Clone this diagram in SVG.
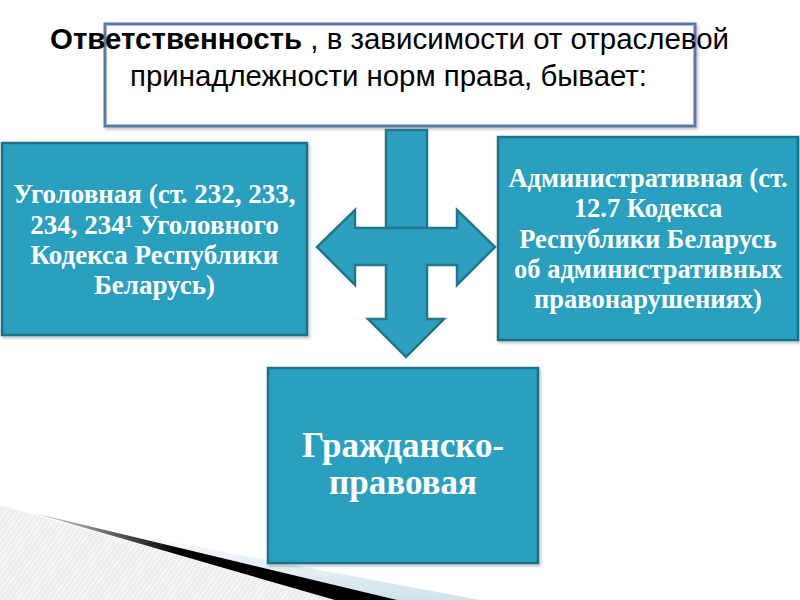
<svg xmlns="http://www.w3.org/2000/svg" width="800" height="600" viewBox="0 0 800 600">
<defs>
<style>
.box{fill:#2ca0c0;stroke:#1f7188;stroke-width:2.5}
.arr{fill:#2ca0c0;stroke:#22768d;stroke-width:2.5;stroke-linejoin:miter}
.t{font-family:"Liberation Serif","Times New Roman",serif;font-weight:bold;fill:#ffffff;text-anchor:middle}
.h{font-family:"Liberation Sans",Arial,sans-serif;fill:#000000}
</style>
<pattern id="hatch" width="4" height="4" patternUnits="userSpaceOnUse" patternTransform="rotate(35)">
<rect width="4" height="4" fill="#f4f4f4"/>
<line x1="0" y1="0" x2="0" y2="4" stroke="#d8d8d8" stroke-width="1"/>
</pattern>
<linearGradient id="lb" x1="0" y1="1" x2="0" y2="0">
<stop offset="0" stop-color="#cfe3ec"/>
<stop offset="1" stop-color="#ffffff"/>
</linearGradient>
<linearGradient id="bk" x1="0" y1="0" x2="1" y2="0">
<stop offset="0" stop-color="#000" stop-opacity="0.1"/>
<stop offset="0.4" stop-color="#000" stop-opacity="1"/>
</linearGradient>
<filter id="sh" x="-5%" y="-5%" width="112%" height="115%">
<feDropShadow dx="1.5" dy="2" stdDeviation="1.5" flood-color="#000" flood-opacity="0.25"/>
</filter>
</defs>
<rect width="800" height="600" fill="#ffffff"/>
<g id="decor">
<polygon points="0,505 300,590 340,600 0,600" fill="url(#hatch)"/>
<polygon points="80,525 480,600 340,600" fill="url(#lb)"/>
<polygon points="30,512 397,600 335,600" fill="url(#bk)"/>
</g>
<g id="title">
<rect x="105" y="24" width="590" height="102" fill="#ffffff" stroke="#5b78a8" stroke-width="3" filter="url(#sh)"/>
<rect x="106.5" y="25.5" width="587" height="99" fill="none" stroke="#a9bad6" stroke-width="1"/>
<text class="h" x="50" y="49" font-size="29" textLength="679" lengthAdjust="spacingAndGlyphs"><tspan font-weight="bold">Ответственность</tspan> , в зависимости от отраслевой</text>
<text class="h" x="130" y="86" font-size="29" textLength="517" lengthAdjust="spacingAndGlyphs">принадлежности норм права, бывает:</text>
</g>
<g id="connectors">
<rect class="arr" x="386" y="130" width="41" height="98"/>
<polygon class="arr" points="386,228 427,228 457,228 457,210 495,247 457,285 457,265 427,265 427,319 444,319 406,357 368,319 386,319 386,265 355,265 355,285 317,247 355,210 355,228"/>
</g>
<g id="criminal">
<rect class="box" x="2" y="143" width="305" height="192" filter="url(#sh)"/>
<text class="t" font-size="27"><tspan x="154.5" y="203">Уголовная (ст. 232, 233,</tspan><tspan x="154.5" y="234">234, 234¹ Уголовного</tspan><tspan x="154.5" y="264">Кодекса Республики</tspan><tspan x="154.5" y="294">Беларусь)</tspan></text>
</g>
<g id="admin">
<rect class="box" x="498" y="137" width="300" height="203" filter="url(#sh)"/>
<text class="t" font-size="26.5"><tspan x="648" y="187">Административная (ст.</tspan><tspan x="648" y="217">12.7 Кодекса</tspan><tspan x="648" y="248">Республики Беларусь</tspan><tspan x="648" y="278">об административных</tspan><tspan x="648" y="308">правонарушениях)</tspan></text>
</g>
<g id="civil">
<rect class="box" x="268" y="368" width="270" height="195" filter="url(#sh)"/>
<text class="t" font-size="35"><tspan x="403" y="457">Гражданско-</tspan><tspan x="403" y="494">правовая</tspan></text>
</g>
</svg>
